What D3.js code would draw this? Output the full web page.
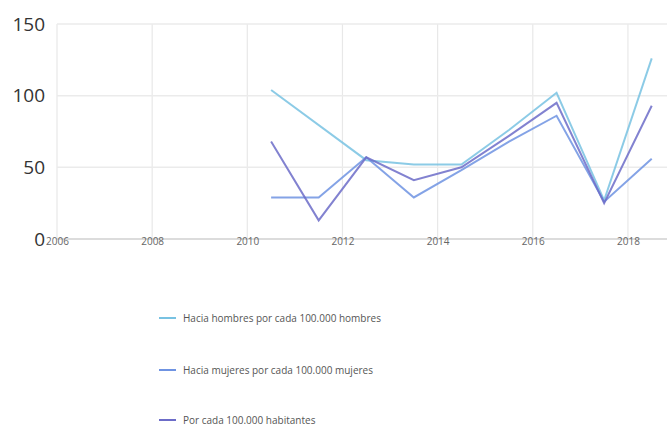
<!DOCTYPE html>
<html><head><meta charset="utf-8">
<script src="https://cdn.jsdelivr.net/npm/d3@7"></script>
<style>
body{margin:0;background:#fff;}
svg{display:block;font-family:"Open Sans","Noto Sans",sans-serif;}
</style></head>
<body><svg id="c" width="667" height="437"></svg>
<script>
const years = [2010.5, 2011.5, 2012.5, 2013.5, 2014.5, 2015.5, 2016.5, 2017.5, 2018.5];
const hombres = [104, null, 55, 52, 52, 76, 102, 27, 126];
const mujeres = [29, 29, 57, 29, 48, 68, 86, 26, 56];
const total = [68, 13, 57, 41, 50, 72, 95, 25, 93];
const seriesNames = ["Hacia hombres por cada 100.000 hombres", "Hacia mujeres por cada 100.000 mujeres", "Por cada 100.000 habitantes"];
const colors = ["#78c2e2", "#6f93e2", "#6c6cc8"];
const xTicks = [2006, 2008, 2010, 2012, 2014, 2016, 2018];
const yTicks = [0, 50, 100, 150];

const svg = d3.select("#c");
const x = d3.scaleLinear().domain([2006, 2018.8]).range([57, 666]);
const y = d3.scaleLinear().domain([0, 150]).range([239, 24]);

// grid
svg.append("g").selectAll("line").data(xTicks).join("line")
  .attr("x1", d=>x(d)).attr("x2", d=>x(d)).attr("y1", y(150)).attr("y2", y(0))
  .attr("stroke","#e8e8e8").attr("stroke-width",1.2);
svg.append("g").selectAll("line").data(yTicks).join("line")
  .attr("x1", 57).attr("x2", 667).attr("y1", d=>y(d)).attr("y2", d=>y(d))
  .attr("stroke", d=> d===0 ? "#dcdcdc" : "#ebebeb").attr("stroke-width", d=> d===0?2:1.5);

// y axis labels
const ya = svg.append("g").attr("transform","translate(45,0)")
  .call(d3.axisLeft(y).tickValues(yTicks).tickSize(0).tickPadding(0));
ya.select(".domain").remove();
ya.selectAll("text").attr("font-size",19).attr("fill","#333").attr("font-family","'Open Sans',sans-serif");

// x axis labels
const xa = svg.append("g").attr("transform","translate(0,238)")
  .call(d3.axisBottom(x).tickValues(xTicks).tickSize(0).tickPadding(0).tickFormat(d3.format("d")));
xa.select(".domain").remove();
xa.selectAll("text").attr("font-size",10).attr("fill","#666").attr("font-family","'Open Sans',sans-serif");

// lines
const data = [hombres, mujeres, total];
const line = d3.line().x(d=>x(d[0])).y(d=>y(d[1]));
data.forEach((s,i)=>{
  const pts = years.map((yr,j)=>[yr,s[j]]).filter(d=>d[1]!==null);
  svg.append("path").datum(pts).attr("d", line)
    .attr("fill","none").attr("stroke", colors[i]).attr("stroke-width",2)
    .attr("stroke-opacity",0.85).attr("stroke-linejoin","miter");
});

// legend
const legY = [318, 370, 420];
const lg = svg.append("g");
seriesNames.forEach((n,i)=>{
  lg.append("line").attr("x1",159).attr("x2",176).attr("y1",legY[i]).attr("y2",legY[i])
    .attr("stroke",colors[i]).attr("stroke-width",2);
  lg.append("text").attr("x",183).attr("y",legY[i]).attr("dy","0.35em")
    .attr("font-size",10).attr("fill","#555").text(n);
});
</script></body></html>
